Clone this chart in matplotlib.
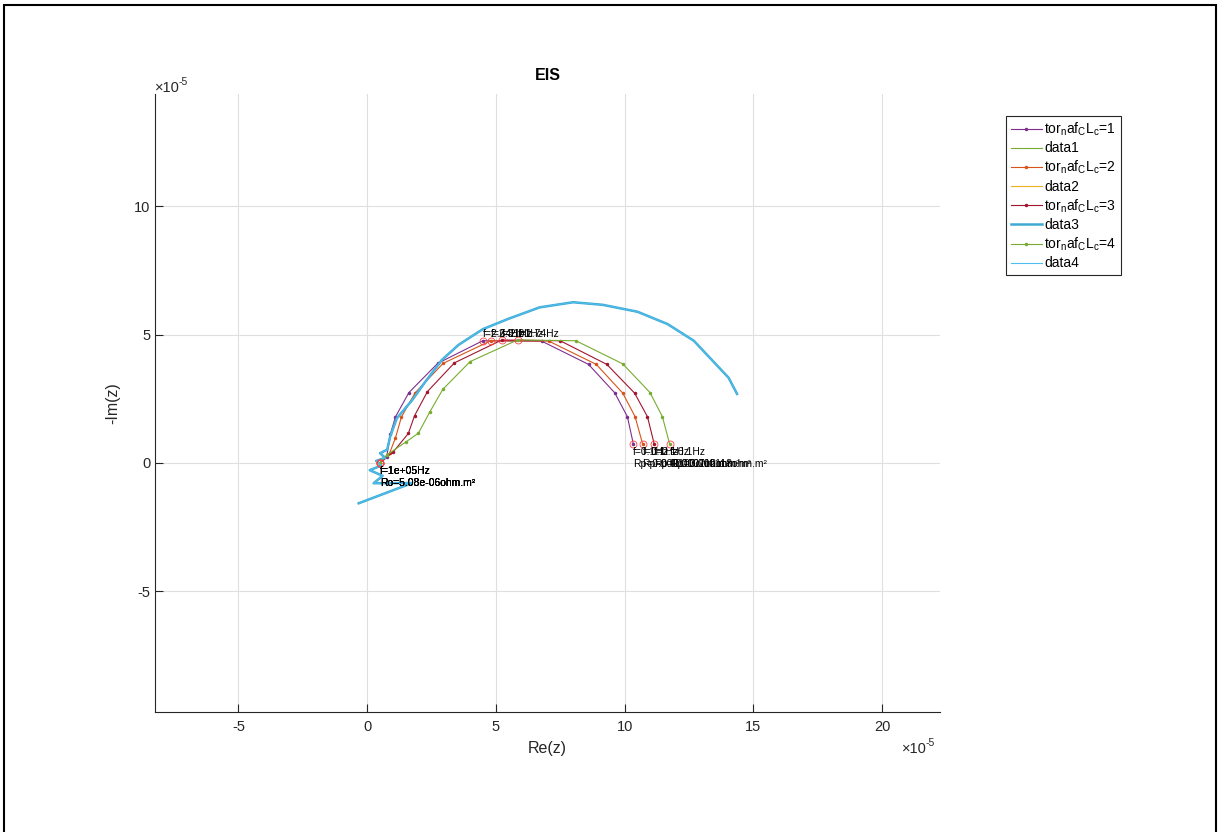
import matplotlib.pyplot as plt
import numpy as np
from matplotlib.patches import Rectangle
from matplotlib.ticker import FuncFormatter

plt.rcParams['font.family'] = ['Liberation Sans', 'DejaVu Sans']
plt.rcParams['mathtext.fontset'] = 'custom'
plt.rcParams['mathtext.rm'] = 'Liberation Sans'
plt.rcParams['axes.unicode_minus'] = False

# model curves (Re, -Im) in units of 1e-5 ohm.m2, high -> low frequency
re_1 = [0.508, 0.76, 0.90, 1.10, 1.62, 2.74, 4.49, 6.79, 8.60, 9.62, 10.11, 10.34]
im_1 = [0.00, 0.25, 1.12, 1.80, 2.74, 3.88, 4.76, 4.74, 3.84, 2.73, 1.80, 0.74]

re_2 = [0.508, 0.87, 1.10, 1.33, 1.86, 2.95, 4.80, 7.05, 8.90, 9.93, 10.41, 10.70]
im_2 = [0.00, 0.38, 0.98, 1.79, 2.73, 3.88, 4.76, 4.75, 3.84, 2.72, 1.80, 0.74]

re_3 = [0.508, 1.02, 1.60, 1.84, 2.34, 3.39, 5.23, 7.50, 9.31, 10.39, 10.89, 11.15]
im_3 = [0.00, 0.44, 1.15, 1.84, 2.78, 3.90, 4.79, 4.76, 3.84, 2.72, 1.80, 0.74]

re_4 = [0.508, 0.76, 1.52, 1.99, 2.44, 2.94, 4.00, 5.84, 8.11, 9.93, 10.99, 11.47, 11.75]
im_4 = [0.00, 0.31, 0.83, 1.16, 2.00, 2.87, 3.95, 4.79, 4.76, 3.86, 2.74, 1.80, 0.74]

# measured spectrum
re_exp = [-0.33, 1.75, 0.25, 0.60, 0.10, 0.55, 0.35, 0.70, 0.50, 0.78, 0.89, 1.15,
          1.75, 2.25, 2.90, 3.55, 4.49, 5.50, 6.70, 8.00, 9.15, 10.50, 11.67,
          12.69, 14.04, 14.37]
im_exp = [-1.57, -0.78, -0.79, -0.50, -0.28, -0.10, 0.08, 0.20, 0.38, 0.52, 1.02, 1.74,
          2.45, 3.15, 4.01, 4.60, 5.21, 5.62, 6.06, 6.26, 6.16, 5.89, 5.41,
          4.76, 3.32, 2.69]

f_high = 1e5
f_peak = [2.64, 2.31, 2.01, 1.74]
f_low = 0.1

tor_vals = [1, 2, 3, 4]
model_re = [re_1, re_2, re_3, re_4]
model_im = [im_1, im_2, im_3, im_4]
model_colors = ['#7E2F8E', '#D95319', '#A2142F', '#77AC30']
exp_colors = ['#77AC30', '#EDB120', '#3FA9D3', '#4DBEEE']
exp_widths = [0.8, 0.8, 1.8, 0.8]

u = 1e-5

fig = plt.figure(figsize=(12.21, 8.32), dpi=100)
ax = fig.add_axes([0.127, 0.1442, 0.643, 0.7428])

rx = np.array(re_exp) * u
ry = np.array(im_exp) * u

for i in range(4):
    x = np.array(model_re[i]) * u
    y = np.array(model_im[i]) * u
    ax.plot(x, y, '.-', color=model_colors[i], lw=0.8, ms=3,
            label=r'tor$_\mathrm{n}$af$_\mathrm{C}$L$_\mathrm{c}$=%d' % tor_vals[i])
    ax.plot(rx, ry, color=exp_colors[i], lw=exp_widths[i], label='data%d' % (i + 1))

for i in range(4):
    x = np.array(model_re[i]) * u
    y = np.array(model_im[i]) * u
    k = int(np.argmax(y))
    ax.plot([x[0], x[k], x[-1]], [y[0], y[k], y[-1]], 'o', mfc='none',
            mec='#FF4040', mew=0.6, ms=5, label='_nolegend_')
    ax.annotate('f=%.3gHz\nRo=%.3gohm.m²' % (f_high, x[0]), (x[0], y[0]),
                xytext=(0, -2), textcoords='offset points', ha='left', va='top',
                fontsize=7.5, linespacing=1.3)
    ax.annotate('f=%.3gHz' % f_peak[i], (x[k], y[k]),
                xytext=(0, 1), textcoords='offset points', ha='left', va='bottom',
                fontsize=7.5)
    ax.annotate('f=%.3gHz\nRp=%.3gohm.m²' % (f_low, x[-1]), (x[-1], y[-1]),
                xytext=(0, -2), textcoords='offset points', ha='left', va='top',
                fontsize=7.5, linespacing=1.3)

ax.set_xlim(-8.24e-5, 22.26e-5)
ax.set_ylim(-9.70e-5, 14.37e-5)
ax.set_xticks(np.array([-5, 0, 5, 10, 15, 20]) * u)
ax.set_yticks(np.array([-5, 0, 5, 10]) * u)
sci = FuncFormatter(lambda v, p: '%g' % round(v / u, 6))
ax.xaxis.set_major_formatter(sci)
ax.yaxis.set_major_formatter(sci)

# exponent markers for both axes
for px, py in [(155, 92), (902, 753)]:
    fig.text(px / 1221, 1 - py / 832, '×10', fontsize=10.5, color='#262626',
             ha='left', va='baseline')
    fig.text((px + 24) / 1221, 1 - (py - 7) / 832, '-5', fontsize=7.5, color='#262626',
             ha='left', va='baseline')

ax.grid(True, color='#dfdfdf', lw=0.8)
ax.set_axisbelow(True)
for s in ('top', 'right'):
    ax.spines[s].set_visible(False)
for s in ('left', 'bottom'):
    ax.spines[s].set_color('#262626')
    ax.spines[s].set_linewidth(0.8)
ax.tick_params(direction='in', length=6, width=0.8, colors='#262626', labelsize=10.5,
               labelcolor='#262626')
ax.tick_params(axis='x', pad=6)

ax.set_title('EIS', fontsize=11.5, fontweight='bold', color='black', pad=10)
ax.set_xlabel('Re(z)', fontsize=11.5, color='#262626', labelpad=5)
ax.set_ylabel('-Im(z)', fontsize=11.5, color='#262626', labelpad=10)

leg = ax.legend(loc='upper left', bbox_to_anchor=(0.824, 0.861),
                bbox_transform=fig.transFigure, fontsize=10, fancybox=False,
                framealpha=1, edgecolor='#262626', handlelength=2.2,
                handletextpad=0.2, labelspacing=0.25, borderpad=0.35,
                borderaxespad=0)
leg.get_frame().set_linewidth(0.8)

fig.patches.append(Rectangle((4 / 1221, -0.02), 1212 / 1221, 1 - 5 / 832 + 0.02,
                             transform=fig.transFigure, fill=False, ec='black',
                             lw=1.5))

fig.savefig('out.png', dpi=100)
